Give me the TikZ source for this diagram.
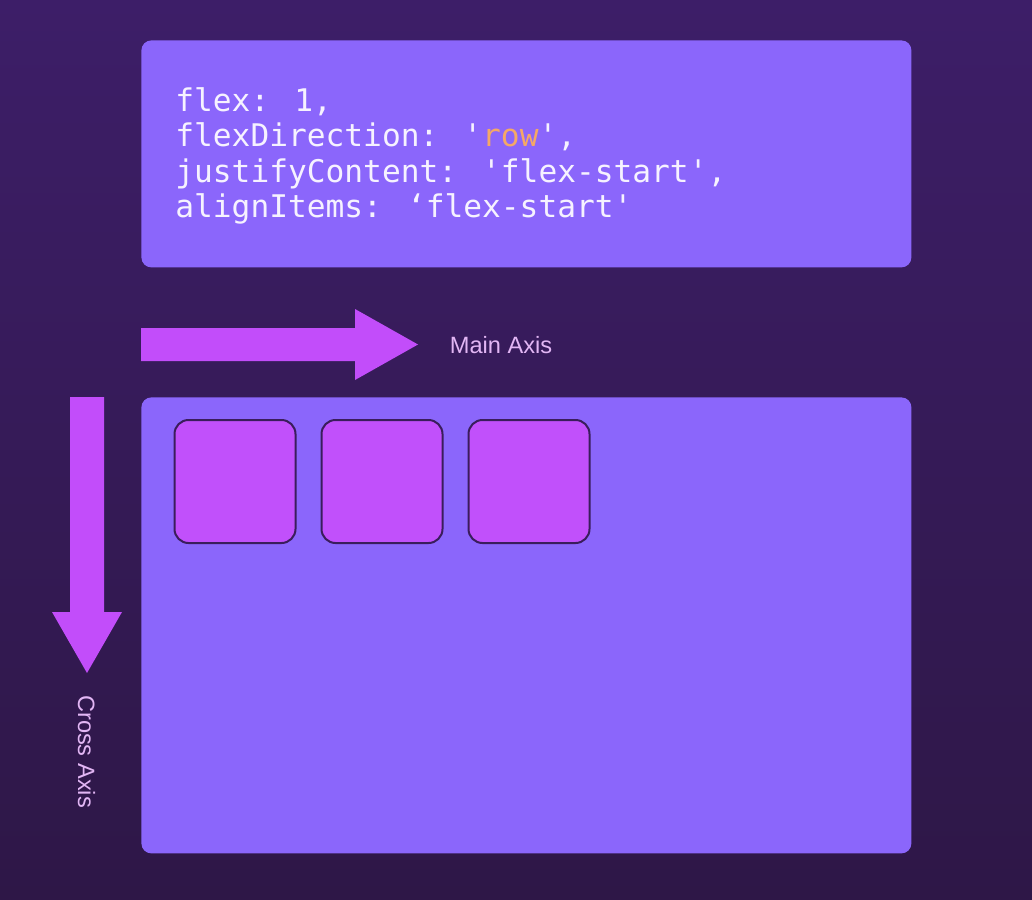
\documentclass[tikz,border=0pt]{standalone}
\usepackage{fontspec}
\usetikzlibrary{positioning}
\newfontfamily\codefont{DejaVu Sans Mono}
\newfontfamily\labelfont{Liberation Sans}
\definecolor{bgtop}{HTML}{3D1E68}
\definecolor{bgbottom}{HTML}{2E1747}
\definecolor{panel}{HTML}{8B66FB}
\definecolor{itemfill}{HTML}{C150FB}
\definecolor{itemline}{HTML}{3A1D5C}
\definecolor{axisfill}{HTML}{C24DFA}
\definecolor{axistext}{HTML}{E2B6F4}
\definecolor{codetext}{HTML}{F6F2FF}
\definecolor{codestr}{HTML}{F5A866}
\newcommand\sq{\textquotesingle}

\tikzstyle{panelbox} = [fill=panel, rounded corners=5pt, inner sep=0pt, anchor=north west]
\tikzstyle{item} = [draw=itemline, line width=1pt, fill=itemfill, rounded corners=7pt, minimum width=60.5pt, minimum height=61.5pt]
\tikzstyle{codeline} = [anchor=base west, inner sep=0pt, text=codetext, font=\codefont\fontsize{15.6}{17.5}\selectfont]
\tikzstyle{axislabel} = [inner sep=0pt, text=axistext, font=\labelfont\fontsize{11.8}{14}\selectfont]

\begin{document}
\begin{tikzpicture}[x=0.5pt, y=-0.5pt]
\shade[top color=bgtop, bottom color=bgbottom] (0,0) rectangle (1032,899);
\useasboundingbox (0,0) rectangle (1032,899);

% style panel
\node[panelbox, minimum width=385pt, minimum height=113.5pt] (code) at (141,40) {};
\foreach \txt [count=\i] in {{flex: 1,},
  {flexDirection: \sq\textcolor{codestr}{row}\sq,},
  {justifyContent: \sq flex-start\sq,},
  {alignItems: ‘flex-start\sq}}
  \node[codeline] (line\i) at (175,{112+35*(\i-1)}) {\txt};

% main axis
\fill[axisfill] (141,328) -- (355,328) -- (355,309) -- (418,344.5) -- (355,380) -- (355,361) -- (141,361) -- cycle;
\node[axislabel] (main) at (501,345) {Main Axis};

% cross axis
\fill[axisfill] (70,397) -- (104,397) -- (104,612) -- (122,612) -- (87,673) -- (52,612) -- (70,612) -- cycle;
\node[axislabel, rotate=-90] (cross) at (86.5,751.5) {Cross Axis};

% container and items
\node[panelbox, minimum width=385pt, minimum height=228pt] (flexbox) at (141,397) {};
\node[item, anchor=north west] (item1) at (173.5,419) {};
\node[item, right=12pt of item1] (item2) {};
\node[item, right=12pt of item2] (item3) {};
\end{tikzpicture}
\end{document}
